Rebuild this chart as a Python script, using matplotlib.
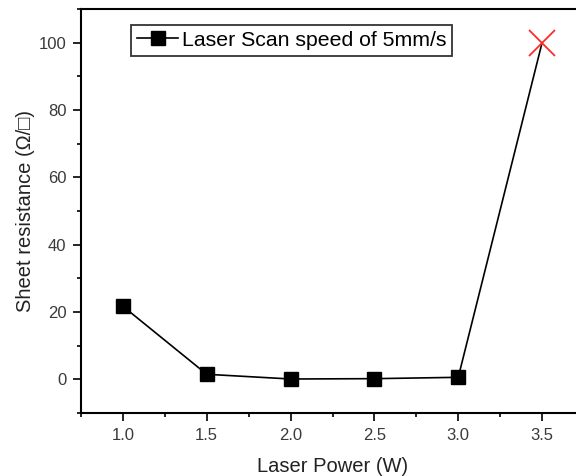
import matplotlib
matplotlib.use("Agg")
import matplotlib.pyplot as plt
from matplotlib.ticker import MultipleLocator
from matplotlib.lines import Line2D

plt.rcParams['font.family'] = ['Liberation Sans', 'DejaVu Sans']

laser_power = [1.0, 1.5, 2.0, 2.5, 3.0, 3.5]
sheet_resistance = [21.7, 1.5, 0.1, 0.2, 0.6, 100.0]
series_label = "Laser Scan speed of 5mm/s"

fig = plt.figure(figsize=(5.76, 4.76), dpi=100)
ax = fig.add_axes([81 / 576, 63 / 476, 503 / 576, 404 / 476])

# connecting line through all points
ax.plot(laser_power, sheet_resistance, color='black', lw=1.2, zorder=2)
# measured points
ax.plot(laser_power[:-1], sheet_resistance[:-1], ls='none', marker='s',
        ms=10, color='black', zorder=3)
# failed sample
ax.plot(laser_power[-1:], sheet_resistance[-1:], ls='none', marker='x',
        ms=19, mew=1.3, color='#ff2a2a', zorder=4)

ax.set_xlim(0.75, 3.75)
ax.set_ylim(-10, 110)
ax.xaxis.set_major_locator(MultipleLocator(0.5))
ax.xaxis.set_minor_locator(MultipleLocator(0.25))
ax.yaxis.set_major_locator(MultipleLocator(20))
ax.yaxis.set_minor_locator(MultipleLocator(10))
ax.tick_params(which='both', direction='out', width=1.2, colors='black',
               labelcolor='#3a3a3a', labelsize=12)
ax.tick_params(which='major', length=5.5, pad=5)
ax.tick_params(which='minor', length=3)
for s in ax.spines.values():
    s.set_linewidth(1.5)

ax.set_xlabel("Laser Power (W)", fontsize=14.5, color='#222222', labelpad=10.5)
ax.set_ylabel("Sheet resistance (Ω/□)", fontsize=14.5, color='#222222', labelpad=2.5)

handle = Line2D([], [], color='black', lw=1.2, marker='s', ms=10)
leg = ax.legend([handle], [series_label], loc='upper left',
                bbox_to_anchor=(0.107, 0.951), fontsize=15.3, frameon=True,
                fancybox=False, edgecolor='black', handlelength=1.95,
                handletextpad=0.15, borderpad=0.1, borderaxespad=0)
leg.get_frame().set_linewidth(1.3)
leg.get_frame().set_boxstyle("square", pad=0.2)

fig.savefig("out.png", dpi=100)
